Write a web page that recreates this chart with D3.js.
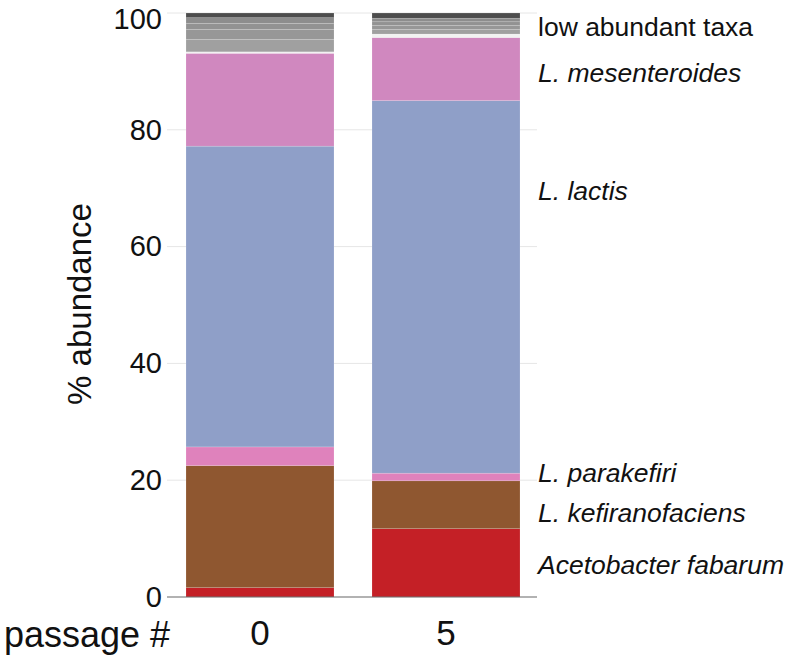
<!DOCTYPE html>
<html><head><meta charset="utf-8">
<script src="https://cdn.jsdelivr.net/npm/d3@7"></script>
<style>body{margin:0;background:#fff}svg{display:block}text{font-family:"Liberation Sans",Arial,sans-serif;fill:#111}</style>
</head><body><svg id="c" width="800" height="662"></svg>
<script>
const passages = ["0", "5"];
const taxa = ["Acetobacter fabarum","L. kefiranofaciens","L. parakefiri","L. lactis","L. mesenteroides","low1","low2","low3","low4","low5","low6"];
const colors = ["#c42026","#8f5730","#df82bc","#8f9fc8","#d088bf","#f2f2f2","#a0a0a0","#979797","#929292","#8d8d8d","#4d4d4d"];
const passage0 = [1.6, 20.9, 3.2, 51.5, 15.9, 0.25, 2.15, 1.7, 1.0, 1.0, 0.8];
const passage5 = [11.7, 8.2, 1.3, 63.8, 10.8, 0.6, 0.8, 0.7, 0.6, 0.6, 0.9];
const yTicks = [0, 20, 40, 60, 80, 100];
const labelText = ["low abundant taxa","L. mesenteroides","L. lactis","L. parakefiri","L. kefiranofaciens","Acetobacter fabarum"];
const labelPos = [97.6, 89.7, 69.5, 21.3, 14.4, 5.5];
const labelItalic = [false, true, true, true, true, true];

const svg = d3.select("#c");
const x = d3.scaleBand().domain(passages).range([186, 520]).paddingInner(38 / 186).paddingOuter(0);
const y = d3.scaleLinear().domain([0, 100]).range([597, 13]);

// gridlines
svg.append("g").selectAll("line").data(yTicks.slice(1)).join("line")
  .attr("x1", 167).attr("x2", 537).attr("y1", d => y(d)).attr("y2", d => y(d))
  .attr("stroke", "#e6e6e6").attr("stroke-width", 1);

const rows = passages.map((p, i) => {
  const vals = i === 0 ? passage0 : passage5;
  const o = {passage: p};
  taxa.forEach((t, j) => o[t] = vals[j]);
  return o;
});
const stack = d3.stack().keys(taxa)(rows);
svg.append("g").selectAll("g").data(stack).join("g")
  .attr("fill", (d, i) => colors[i])
  .selectAll("rect").data(d => d).join("rect")
  .attr("x", d => x(d.data.passage)).attr("width", x.bandwidth())
  .attr("y", d => y(d[1])).attr("height", d => y(d[0]) - y(d[1]))
  .attr("stroke", "rgba(255,255,255,0.25)").attr("stroke-width", 0.6);

// baseline
svg.append("line").attr("x1", 167).attr("x2", 537).attr("y1", y(0)).attr("y2", y(0))
  .attr("stroke", "#666").attr("stroke-width", 1.2);

// y axis tick labels
const yAxis = d3.axisLeft(y).tickValues(yTicks).tickSize(0).tickPadding(0);
const ga = svg.append("g").attr("transform", "translate(162,0)").call(yAxis);
ga.select(".domain").remove();
ga.selectAll("text").attr("font-size", 29).attr("font-family", "Liberation Sans, Arial, sans-serif").attr("fill", "#111")
  .attr("dy", d => d === 100 ? "0.55em" : "0.32em");

// x labels
const xAxis = d3.axisBottom(x).tickSize(0).tickPadding(0);
const gx = svg.append("g").attr("transform", "translate(0,620)").call(xAxis);
gx.select(".domain").remove();
gx.selectAll("text").attr("font-size", 35).attr("font-family", "Liberation Sans, Arial, sans-serif").attr("fill", "#111");

svg.append("text").attr("x", 4).attr("y", 647).attr("font-size", 36).text("passage #");

svg.append("text").attr("transform", `translate(91,${304}) rotate(-90)`)
  .attr("text-anchor", "middle").attr("font-size", 33).text("% abundance");

svg.append("g").selectAll("text").data(labelText).join("text")
  .attr("x", 538).attr("y", (d, i) => y(labelPos[i]))
  .attr("dy", "0.35em").attr("font-size", 26.5)
  .attr("font-style", (d, i) => labelItalic[i] ? "italic" : "normal")
  .text(d => d);
</script></body></html>
